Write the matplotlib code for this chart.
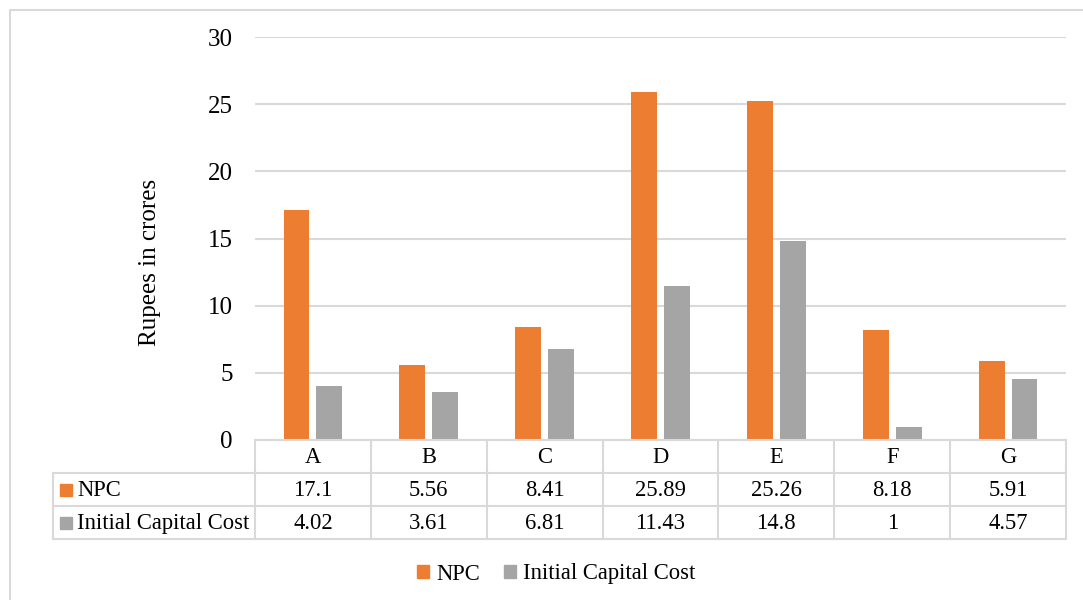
import numpy as np
import matplotlib
matplotlib.use("Agg")
import matplotlib.pyplot as plt
from matplotlib.patches import Patch

plt.rcParams['font.family'] = ['Liberation Serif', 'DejaVu Serif']

categories = ['A', 'B', 'C', 'D', 'E', 'F', 'G']
npc = [17.1, 5.56, 8.41, 25.89, 25.26, 8.18, 5.91]
capital = [4.02, 3.61, 6.81, 11.43, 14.8, 1, 4.57]
npc_labels = ['17.1', '5.56', '8.41', '25.89', '25.26', '8.18', '5.91']
capital_labels = ['4.02', '3.61', '6.81', '11.43', '14.8', '1', '4.57']

orange = '#ED7D31'
grey = '#A5A5A5'
line_c = '#d9d9d9'
W, H = 1083, 600
fs = 16.3     # table + legend
fs_big = 18   # ticks + y label

fig = plt.figure(figsize=(W / 100, H / 100), dpi=100)

# plot area in pixels: x 255..1066, y 37..440
L, R, T, B = 255, 1066, 37, 440
ax = fig.add_axes([L / W, 1 - B / H, (R - L) / W, (B - T) / H])
x = np.arange(len(categories))
ax.bar(x - 0.142, npc, width=0.224, color=orange, zorder=3)
ax.bar(x + 0.142, capital, width=0.224, color=grey, zorder=3)
ax.set_xlim(-0.5, len(categories) - 0.5)
ax.set_ylim(0, 30)
ax.set_yticks(range(0, 31, 5))
ax.yaxis.grid(True, color=line_c, lw=1.5)
ax.set_axisbelow(True)
ax.set_xticks([])
for s in ax.spines.values():
    s.set_visible(False)
ax.tick_params(axis='y', length=0, pad=16, labelsize=fs_big)

# overlay in pixel coords for table, border and labels
ov = fig.add_axes([0, 0, 1, 1], facecolor='none')
ov.set_xlim(0, W)
ov.set_ylim(H, 0)
ov.axis('off')

# outer border
ov.plot([10, 10, W + 5], [H + 5, 10, 10], color=line_c, lw=1.5)

ov.text(150, 262, 'Rupees in crores', rotation=90, ha='center', va='center', fontsize=fs_big)

# data table
cw = (R - L) / len(categories)
rows = [440, 473, 506, 539]
tl = 53
for k in range(len(categories) + 1):
    ov.plot([L + k * cw] * 2, [rows[0], rows[3]], color=line_c, lw=1.5)
ov.plot([tl, tl], [rows[1], rows[3]], color=line_c, lw=1.5)
ov.plot([L, R], [rows[0]] * 2, color=line_c, lw=1.5)
for y in rows[1:]:
    ov.plot([tl, R], [y, y], color=line_c, lw=1.5)

for i, c in enumerate(categories):
    cx = L + (i + 0.5) * cw
    ov.text(cx, (rows[0] + rows[1]) / 2 + 1, c, ha='center', va='center', fontsize=fs)
    ov.text(cx, (rows[1] + rows[2]) / 2 + 1, npc_labels[i], ha='center', va='center', fontsize=fs)
    ov.text(cx, (rows[2] + rows[3]) / 2 + 1, capital_labels[i], ha='center', va='center', fontsize=fs)

for r, (name, col) in enumerate([('NPC', orange), ('Initial Capital Cost', grey)]):
    yc = (rows[r + 1] + rows[r + 2]) / 2
    ov.add_patch(plt.Rectangle((60, yc - 6), 12, 12, color=col))
    ov.text(77, yc + 1, name, ha='left', va='center', fontsize=fs)

handles = [Patch(color=orange, label='NPC'), Patch(color=grey, label='Initial Capital Cost')]
fig.legend(handles=handles, loc='center', bbox_to_anchor=(556 / W, 1 - 574 / H), ncol=2,
           frameon=False, fontsize=fs, handlelength=0.55, handleheight=0.55,
           handletextpad=0.3, columnspacing=1.05)

fig.savefig('out.png', dpi=100)
